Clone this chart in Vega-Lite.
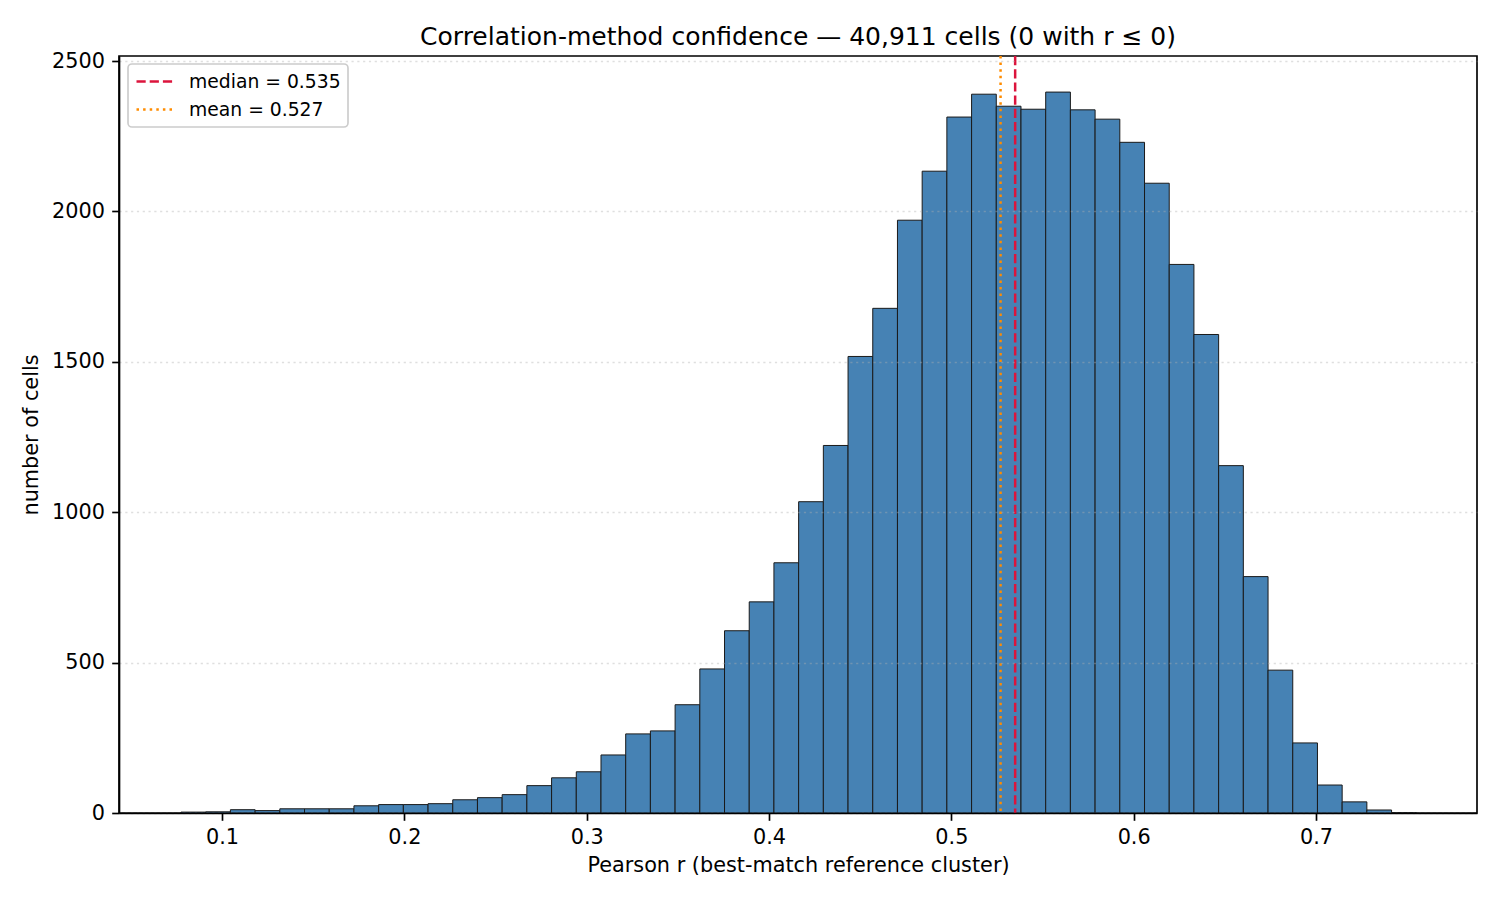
{
  "$schema": "https://vega.github.io/schema/vega-lite/v6.json",
  "autosize": {"type": "none"},
  "padding": {"left": 119, "top": 56, "right": 23, "bottom": 87},
  "width": 1358,
  "height": 757,
  "background": "#ffffff",
  "title": {
    "text": "Correlation-method confidence — 40,911 cells (0 with r ≤ 0)",
    "font": "DejaVu Sans",
    "fontSize": 25,
    "fontWeight": "normal",
    "color": "#000000",
    "anchor": "middle",
    "frame": "group",
    "offset": 0
  },
  "config": {
    "view": {"stroke": "#000000", "strokeWidth": 1.67},
    "axis": {
      "domainColor": "#000000",
      "domainWidth": 1.67,
      "tickColor": "#000000",
      "tickWidth": 1.67,
      "tickSize": 7.3,
      "labelPadding": 7.3,
      "labelFont": "DejaVu Sans",
      "labelFontSize": 20.8,
      "labelColor": "#000000",
      "titleFont": "DejaVu Sans",
      "titleFontSize": 20.8,
      "titleFontWeight": "normal",
      "titleColor": "#000000"
    },
    "legend": {
      "orient": "none",
      "legendX": 9,
      "legendY": 8,
      "fillColor": "rgba(255,255,255,0.8)",
      "strokeColor": "#cccccc",
      "strokeWidth": 1.67,
      "cornerRadius": 4,
      "padding": 7,
      "labelFont": "DejaVu Sans",
      "labelFontSize": 18.75,
      "labelColor": "#000000",
      "labelLimit": 400,
      "labelOffset": 24,
      "rowPadding": 7,
      "symbolType": "M-2,0H2",
      "symbolSize": 324,
      "symbolOffset": 9,
      "symbolStrokeWidth": 2.5
    }
  },
  "layer": [
    {
      "data": {
        "values": [
          {"bin_start": 0.0775, "bin_end": 0.09105, "count": 3},
          {"bin_start": 0.09105, "bin_end": 0.1046, "count": 4},
          {"bin_start": 0.1046, "bin_end": 0.11815, "count": 11},
          {"bin_start": 0.11815, "bin_end": 0.1317, "count": 8},
          {"bin_start": 0.1317, "bin_end": 0.14525, "count": 14},
          {"bin_start": 0.14525, "bin_end": 0.1588, "count": 14},
          {"bin_start": 0.1588, "bin_end": 0.17235, "count": 14},
          {"bin_start": 0.17235, "bin_end": 0.1859, "count": 24},
          {"bin_start": 0.1859, "bin_end": 0.19945, "count": 28},
          {"bin_start": 0.19945, "bin_end": 0.213, "count": 28},
          {"bin_start": 0.213, "bin_end": 0.22655, "count": 31},
          {"bin_start": 0.22655, "bin_end": 0.2401, "count": 44},
          {"bin_start": 0.2401, "bin_end": 0.25365, "count": 51},
          {"bin_start": 0.25365, "bin_end": 0.2672, "count": 61},
          {"bin_start": 0.2672, "bin_end": 0.28075, "count": 91},
          {"bin_start": 0.28075, "bin_end": 0.2943, "count": 117},
          {"bin_start": 0.2943, "bin_end": 0.30785, "count": 137},
          {"bin_start": 0.30785, "bin_end": 0.3214, "count": 193},
          {"bin_start": 0.3214, "bin_end": 0.33495, "count": 263},
          {"bin_start": 0.33495, "bin_end": 0.3485, "count": 273},
          {"bin_start": 0.3485, "bin_end": 0.36205, "count": 360},
          {"bin_start": 0.36205, "bin_end": 0.3756, "count": 479},
          {"bin_start": 0.3756, "bin_end": 0.38915, "count": 606},
          {"bin_start": 0.38915, "bin_end": 0.4027, "count": 702},
          {"bin_start": 0.4027, "bin_end": 0.41625, "count": 832},
          {"bin_start": 0.41625, "bin_end": 0.4298, "count": 1035},
          {"bin_start": 0.4298, "bin_end": 0.44335, "count": 1222},
          {"bin_start": 0.44335, "bin_end": 0.4569, "count": 1518},
          {"bin_start": 0.4569, "bin_end": 0.47045, "count": 1678},
          {"bin_start": 0.47045, "bin_end": 0.484, "count": 1971},
          {"bin_start": 0.484, "bin_end": 0.49755, "count": 2134},
          {"bin_start": 0.49755, "bin_end": 0.5111, "count": 2314},
          {"bin_start": 0.5111, "bin_end": 0.52465, "count": 2390},
          {"bin_start": 0.52465, "bin_end": 0.5382, "count": 2350},
          {"bin_start": 0.5382, "bin_end": 0.55175, "count": 2340},
          {"bin_start": 0.55175, "bin_end": 0.5653, "count": 2397},
          {"bin_start": 0.5653, "bin_end": 0.57885, "count": 2338},
          {"bin_start": 0.57885, "bin_end": 0.5924, "count": 2307},
          {"bin_start": 0.5924, "bin_end": 0.60595, "count": 2230},
          {"bin_start": 0.60595, "bin_end": 0.6195, "count": 2094},
          {"bin_start": 0.6195, "bin_end": 0.63305, "count": 1824},
          {"bin_start": 0.63305, "bin_end": 0.6466, "count": 1591},
          {"bin_start": 0.6466, "bin_end": 0.66015, "count": 1155},
          {"bin_start": 0.66015, "bin_end": 0.6737, "count": 786},
          {"bin_start": 0.6737, "bin_end": 0.68725, "count": 475},
          {"bin_start": 0.68725, "bin_end": 0.7008, "count": 233},
          {"bin_start": 0.7008, "bin_end": 0.71435, "count": 93},
          {"bin_start": 0.71435, "bin_end": 0.7279, "count": 37},
          {"bin_start": 0.7279, "bin_end": 0.74145, "count": 10},
          {"bin_start": 0.74145, "bin_end": 0.755, "count": 1}
        ]
      },
      "mark": {
        "type": "bar",
        "fill": "#4682b4",
        "stroke": "#1a1a1a",
        "strokeWidth": 1
      },
      "encoding": {
        "x": {
          "field": "bin_start",
          "type": "quantitative",
          "title": "Pearson r (best-match reference cluster)",
          "scale": {"domain": [0.0435, 0.7883], "nice": false, "zero": false},
          "axis": {
            "values": [0.1, 0.2, 0.3, 0.4, 0.5, 0.6, 0.7],
            "format": ".1f",
            "grid": false,
            "titlePadding": 8,
            "zindex": 1
          }
        },
        "x2": {"field": "bin_end"},
        "y": {
          "field": "count",
          "type": "quantitative",
          "title": "number of cells",
          "scale": {"domain": [0, 2517], "nice": false},
          "axis": {
            "values": [0, 500, 1000, 1500, 2000, 2500],
            "format": "d",
            "grid": true,
            "gridColor": "#b0b0b0",
            "gridOpacity": 0.4,
            "gridWidth": 1.67,
            "gridDash": [2.2, 3.6],
            "titlePadding": 10,
            "zindex": 1
          }
        },
        "y2": {"datum": 0}
      }
    },
    {
      "data": {
        "values": [
          {"label": "median = 0.535", "r": 0.535},
          {"label": "mean = 0.527", "r": 0.527}
        ]
      },
      "mark": {"type": "rule", "strokeWidth": 2.5},
      "encoding": {
        "x": {"field": "r", "type": "quantitative"},
        "color": {
          "field": "label",
          "type": "nominal",
          "scale": {
            "domain": ["median = 0.535", "mean = 0.527"],
            "range": ["#dc143c", "#ff8c00"]
          },
          "legend": {"title": null}
        },
        "strokeDash": {
          "field": "label",
          "type": "nominal",
          "scale": {
            "domain": ["median = 0.535", "mean = 0.527"],
            "range": [[9.2, 4], [2.5, 4.1]]
          },
          "legend": {"title": null}
        }
      }
    }
  ]
}
